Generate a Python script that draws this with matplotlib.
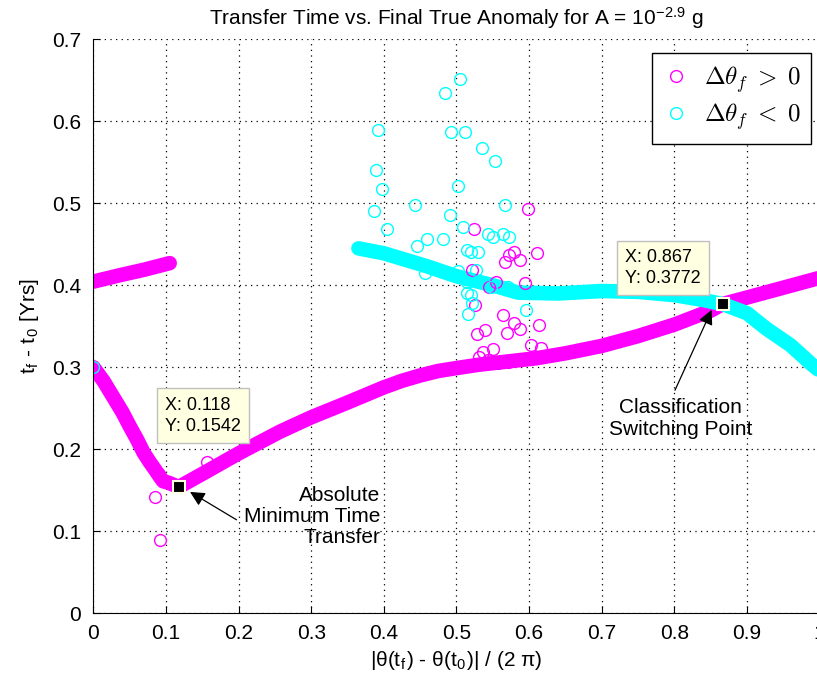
import numpy as np
import matplotlib
matplotlib.use('Agg')
import matplotlib.pyplot as plt

plt.rcParams['font.family'] = ['Liberation Sans', 'DejaVu Sans']
plt.rcParams['mathtext.fontset'] = 'cm'

# --- dense branches, delta theta_f > 0 (magenta) ---
pos_upper_x = [0.0, 0.035, 0.07, 0.105]
pos_upper_y = [0.4045, 0.412, 0.419, 0.427]

pos_desc_x = [0.0, 0.014, 0.027, 0.04, 0.05, 0.06, 0.069, 0.077, 0.085, 0.091, 0.096, 0.104, 0.112]
pos_desc_y = [0.300, 0.283, 0.264, 0.245, 0.228, 0.212, 0.196, 0.185, 0.175, 0.167, 0.161, 0.159, 0.156]

pos_main_x = [0.118, 0.15, 0.2, 0.257, 0.3, 0.35, 0.4, 0.425, 0.45, 0.475, 0.5, 0.53, 0.57, 0.61,
              0.65, 0.7, 0.75, 0.8, 0.85, 0.867, 0.9, 0.95, 1.0]
pos_main_y = [0.1542, 0.170, 0.195, 0.2215, 0.239, 0.257, 0.2755, 0.2835, 0.290, 0.2955, 0.299, 0.303,
              0.307, 0.311, 0.317, 0.326, 0.338, 0.352, 0.369, 0.3772, 0.385, 0.397, 0.409]

# --- dense branch, delta theta_f < 0 (cyan) ---
neg_band_x = [0.365, 0.40, 0.46, 0.50, 0.55, 0.585, 0.64, 0.70, 0.75, 0.80, 0.84, 0.867,
              0.90, 0.927, 0.96, 0.99, 1.0]
neg_band_y = [0.445, 0.439, 0.423, 0.411, 0.400, 0.391, 0.390, 0.393, 0.392, 0.388, 0.382, 0.377,
              0.366, 0.347, 0.327, 0.303, 0.296]

# --- scattered solutions ---
pos_pts_x = [0.598, 0.524, 0.579, 0.573, 0.587, 0.567, 0.611, 0.521, 0.594, 0.554, 0.545, 0.525,
             0.564, 0.579, 0.614, 0.588, 0.569, 0.528, 0.539, 0.603, 0.617, 0.536, 0.550, 0.531,
             0.543, 0.557, 0.571, 0.588, 0.605, 0.157, 0.0847, 0.0913, 0.082, 0.090]
pos_pts_y = [0.493, 0.469, 0.441, 0.437, 0.431, 0.428, 0.439, 0.419, 0.403, 0.404, 0.398, 0.376,
             0.364, 0.354, 0.352, 0.347, 0.342, 0.341, 0.345, 0.327, 0.323, 0.319, 0.322, 0.313,
             0.309, 0.305, 0.307, 0.309, 0.311, 0.185, 0.1415, 0.0894, 0.178, 0.170]

neg_pts_x = [0.0, 0.505, 0.484, 0.392, 0.493, 0.512, 0.535, 0.553, 0.389, 0.397, 0.502, 0.386,
             0.443, 0.567, 0.404, 0.491, 0.509, 0.459, 0.482, 0.446, 0.543, 0.550, 0.564, 0.573,
             0.514, 0.530, 0.520, 0.456, 0.502, 0.527, 0.515, 0.520, 0.515, 0.522, 0.516, 0.596,
             0.571, 0.548]
neg_pts_y = [0.300, 0.652, 0.634, 0.589, 0.587, 0.587, 0.568, 0.551, 0.541, 0.518, 0.521, 0.490,
             0.498, 0.498, 0.469, 0.486, 0.471, 0.456, 0.457, 0.448, 0.463, 0.459, 0.463, 0.459,
             0.443, 0.440, 0.441, 0.415, 0.417, 0.419, 0.404, 0.388, 0.390, 0.378, 0.365, 0.370,
             0.398, 0.398]

# data tips
tip_x = [0.118, 0.867]
tip_y = [0.1542, 0.3772]

MAG = '#ff00ff'
CYA = '#00ffff'

fig = plt.figure(figsize=(8.17, 6.84), dpi=100)
ax = fig.add_axes([0.1144, 0.1034, 0.8886, 0.8392])

band = dict(lw=10.5, solid_capstyle='round', solid_joinstyle='round')
ax.plot(pos_upper_x, pos_upper_y, color=MAG, **band)
ax.plot(pos_desc_x, pos_desc_y, color=MAG, **band)
ax.plot(pos_main_x, pos_main_y, color=MAG, **band)
ax.plot(neg_band_x, neg_band_y, color=CYA, **band)

ax.plot(pos_pts_x, pos_pts_y, 'o', ls='none', ms=8.5, mfc='none', mec=MAG, mew=1.0,
        label=r'$\Delta\theta_f\;>\;0$')
ax.plot(neg_pts_x, neg_pts_y, 'o', ls='none', ms=8.5, mfc='none', mec=CYA, mew=1.0,
        label=r'$\Delta\theta_f\;<\;0$')

# data tip markers
ax.plot(tip_x, tip_y, 's', ls='none', ms=9, mfc='k', mec='#ffffe1', mew=1.5, zorder=5)

tip_box = dict(boxstyle='square,pad=0.45', fc='#ffffe1', ec='#c0c0c0', lw=1)
ax.text(0.099, 0.218, 'X: %.3f\nY: %.4f' % (tip_x[0], tip_y[0]), fontsize=13,
        ha='left', va='bottom', linespacing=1.3, bbox=tip_box, zorder=6)
ax.text(0.7325, 0.3975, 'X: %.3f\nY: %.4f' % (tip_x[1], tip_y[1]), fontsize=13,
        ha='left', va='bottom', linespacing=1.3, bbox=tip_box, zorder=6)

# text notes with arrows
arrow = dict(arrowstyle='-|>', color='k', lw=0.9, mutation_scale=22, shrinkA=0, shrinkB=0)
ax.text(0.395, 0.118, 'Absolute\nMinimum Time\nTransfer', ha='right', va='center',
        multialignment='right', fontsize=15, linespacing=1.15)
ax.annotate('', xy=(0.133, 0.148), xytext=(0.197, 0.114), arrowprops=arrow)
ax.text(0.809, 0.2376, 'Classification\nSwitching Point', ha='center', va='center',
        fontsize=15, linespacing=1.15)
ax.annotate('', xy=(0.8515, 0.370), xytext=(0.801, 0.272), arrowprops=arrow)

ax.set_xlim(0, 1)
ax.set_ylim(0, 0.7)
ax.set_xticks(np.arange(0, 1.01, 0.1))
ax.set_xticklabels(['0', '0.1', '0.2', '0.3', '0.4', '0.5', '0.6', '0.7', '0.8', '0.9', '1'])
ax.set_yticks(np.arange(0, 0.71, 0.1))
ax.set_yticklabels(['0', '0.1', '0.2', '0.3', '0.4', '0.5', '0.6', '0.7'])
ax.tick_params(direction='in', length=5, labelsize=15)
ax.tick_params(axis='y', pad=9)
ax.tick_params(axis='x', pad=8)
ax.grid(True, color='k', linestyle=(0, (1, 3.5)), linewidth=0.9)
ax.spines['top'].set_visible(False)
ax.spines['right'].set_visible(False)

ax.set_title(r'Transfer Time vs. Final True Anomaly for A = 10$^\mathregular{-2.9}$ g',
             fontsize=15, pad=10)
ax.set_xlabel(r'|θ(t$_\mathregular{f}$) - θ(t$_\mathregular{0}$)| / (2 π)', fontsize=15, labelpad=4)
ax.set_ylabel(r't$_\mathregular{f}$ - t$_\mathregular{0}$ [Yrs]', fontsize=15, labelpad=8)

leg = ax.legend(loc='upper right', bbox_to_anchor=(0.989, 0.9756), borderaxespad=0,
                fontsize=18, fancybox=False, framealpha=1, edgecolor='k',
                handlelength=1.0, handletextpad=0.6, borderpad=0.45, labelspacing=0.25)
leg.get_frame().set_linewidth(1.0)

fig.savefig('out.png', dpi=100)
